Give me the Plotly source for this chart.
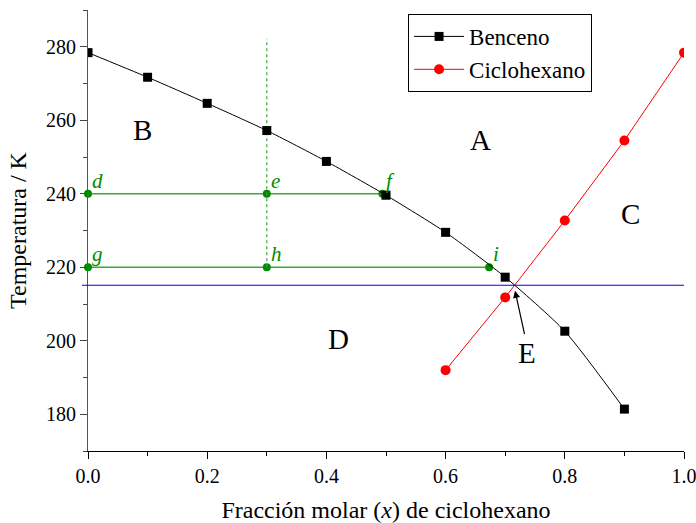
import plotly.graph_objects as go

# Data
x_benceno = [0.0, 0.1, 0.2, 0.3, 0.4, 0.5, 0.6, 0.7, 0.8, 0.9]
T_benceno = [278.4, 271.7, 264.6, 257.2, 248.8, 239.6, 229.5, 217.3, 202.6, 181.4]

x_ciclo = [0.6, 0.7, 0.8, 0.9, 1.0]
T_ciclo = [192.0, 211.8, 232.7, 254.5, 278.4]

T_eutectic = 215.1

# tie lines (green)
tie_x = [[0.0, 0.3, 0.494], [0.0, 0.3, 0.673]]
tie_T = [240, 220]
tie_labels = [["d", "e", "f"], ["g", "h", "i"]]
vert_x = 0.3
vert_T = [220, 282.2]

region_labels = ["B", "A", "C", "D"]
region_x = [0.091, 0.659, 0.911, 0.421]
region_T = [257.3, 254.5, 234.6, 200.6]

E_label_pos = (0.737, 196.7)
E_arrow_head = (0.7165, 213.6)
E_arrow_tail = (0.733, 201.4)

FONT = "Liberation Serif"
GREEN_LINE = "rgb(60,165,60)"
GREEN_DOT = "rgb(0,140,0)"

fig = go.Figure()

# green tie lines
for xs, T in zip(tie_x, tie_T):
    fig.add_trace(go.Scatter(x=xs, y=[T]*len(xs), mode="lines+markers",
                             line=dict(color=GREEN_LINE, width=1.3),
                             marker=dict(color=GREEN_DOT, size=8),
                             cliponaxis=False, showlegend=False, hoverinfo="skip"))
fig.add_trace(go.Scatter(x=[vert_x, vert_x], y=vert_T, mode="lines",
                         line=dict(color=GREEN_LINE, width=1.2, dash="dot"),
                         showlegend=False, hoverinfo="skip"))

fig.add_trace(go.Scatter(x=x_benceno, y=T_benceno, mode="lines+markers", name="Benceno",
                         line=dict(color="black", width=1, shape="spline", smoothing=0.6),
                         marker=dict(symbol="square", size=9, color="black")))
fig.add_trace(go.Scatter(x=x_ciclo, y=T_ciclo, mode="lines+markers", name="Ciclohexano",
                         line=dict(color="red", width=1),
                         marker=dict(symbol="circle", size=10, color="red")))

# eutectic line
fig.add_shape(type="line", xref="paper", yref="y", x0=-0.01, x1=1.0,
              y0=T_eutectic, y1=T_eutectic, line=dict(color="blue", width=1))

annotations = []
for xs, T, labs in zip(tie_x, tie_T, tie_labels):
    for xv, lab in zip(xs, labs):
        annotations.append(dict(x=xv, y=T, xref="x", yref="y", text="<i>%s</i>" % lab,
                                showarrow=False, xanchor="left", yanchor="bottom",
                                xshift=2, yshift=-1,
                                font=dict(family=FONT, size=21, color=GREEN_DOT)))
for lab, xv, T in zip(region_labels, region_x, region_T):
    annotations.append(dict(x=xv, y=T, xref="x", yref="y", text=lab, showarrow=False,
                            font=dict(family=FONT, size=29, color="black")))
annotations.append(dict(x=E_label_pos[0], y=E_label_pos[1], xref="x", yref="y", text="E",
                        showarrow=False, font=dict(family=FONT, size=29, color="black")))
annotations.append(dict(x=E_arrow_head[0], y=E_arrow_head[1], xref="x", yref="y",
                        ax=E_arrow_tail[0], ay=E_arrow_tail[1], axref="x", ayref="y",
                        text="", showarrow=True, arrowhead=2, arrowsize=1.2,
                        arrowwidth=1.2, arrowcolor="black"))

fig.update_layout(
    width=696, height=523,
    margin=dict(l=88, r=12, t=10, b=72),
    paper_bgcolor="white", plot_bgcolor="white",
    font=dict(family=FONT, size=19, color="black"),
    showlegend=True,
    legend=dict(x=0.537, y=0.991, xanchor="left", yanchor="top",
                bordercolor="black", borderwidth=1, bgcolor="white",
                font=dict(family=FONT, size=23), itemwidth=50,
                tracegroupgap=0),
    annotations=annotations,
    xaxis=dict(range=[0, 1], tickvals=[0, 0.2, 0.4, 0.6, 0.8, 1.0],
               ticktext=["0.0", "0.2", "0.4", "0.6", "0.8", "1.0"],
               automargin=False, ticklabeloverflow="allow",
               ticks="outside", ticklen=7, tickcolor="black", tickwidth=1,
               minor=dict(dtick=0.1, ticks="outside", ticklen=4, tickcolor="black"),
               showline=True, linecolor="black", linewidth=1,
               showgrid=False, zeroline=False,
               tickfont=dict(family=FONT, size=20),
               title=dict(text="Fracción molar (<i>x</i>) de ciclohexano",
                          font=dict(family=FONT, size=24), standoff=22)),
    yaxis=dict(range=[170, 290], tickvals=[180, 200, 220, 240, 260, 280],
               automargin=False,
               ticks="outside", ticklen=7, tickcolor="#444", tickwidth=1,
               minor=dict(dtick=10, tick0=170, ticks="outside", ticklen=4, tickcolor="#444"),
               showline=True, linecolor="#555", linewidth=1,
               showgrid=False, zeroline=False,
               tickfont=dict(family=FONT, size=20),
               title=dict(text="Temperatura / K", font=dict(family=FONT, size=24),
                          standoff=12)),
)

fig.write_html("out.html")
